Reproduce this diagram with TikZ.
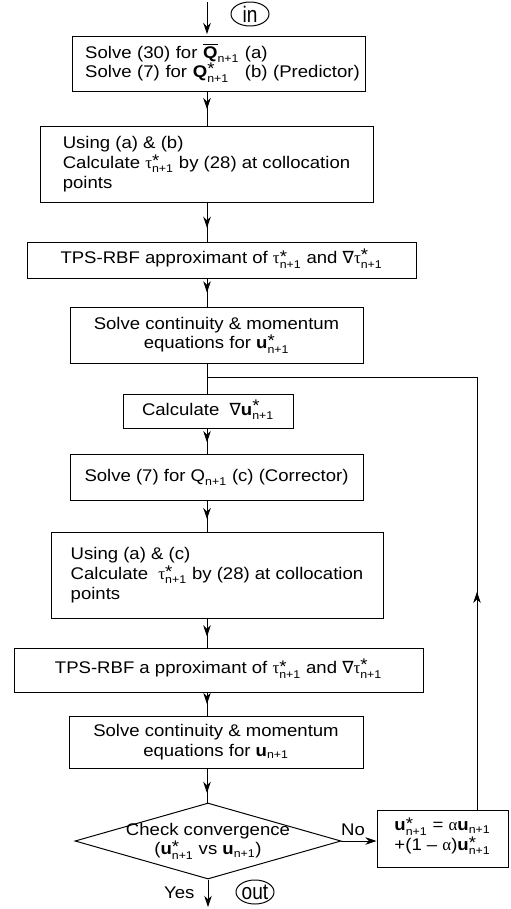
\documentclass[tikz,border=0pt]{standalone}
\usepackage{amsmath}
\usepackage{fontspec}
\setmainfont{Liberation Sans}[FakeStretch=1.1]
\newfontfamily\greekfont{Liberation Serif}
\newfontfamily\nabfont{DejaVu Sans}
\newfontfamily\termfont{Liberation Sans}[FakeStretch=0.85]
\usetikzlibrary{arrows.meta,shapes.geometric,decorations.markings}

% symbols used in the boxes
\newcommand{\nplus}{\text{n+1}}
\newcommand{\nabsym}{{\nabfont ∇}}
\newcommand{\starsym}{\mbox{\smash{\raisebox{-3pt}{*}}}}
\newcommand{\taust}{$\text{\greekfont τ}^{\starsym}_{\nplus}$}
\newcommand{\gradtaust}{$\text{\nabsym\greekfont τ}^{\starsym}_{\nplus}$}
\newcommand{\ust}{$\text{\bfseries u}^{\starsym}_{\nplus}$}
\newcommand{\gradust}{$\text{\nabsym\bfseries u}^{\starsym}_{\nplus}$}
\newcommand{\unp}{$\text{\bfseries u}_{\nplus}$}
\newcommand{\Qbar}{$\overline{\text{\bfseries Q}}_{\nplus}$}
\newcommand{\Qst}{$\text{\bfseries Q}^{\starsym}_{\nplus}$}
\newcommand{\alphsym}{{\greekfont α}}

\tikzset{
  box/.style={draw, line width=0.7pt, inner sep=2pt,
    font=\fontsize{12}{14}\selectfont},
  term/.style={ellipse, draw, line width=0.7pt, inner sep=0pt,
    minimum width=0.95cm, minimum height=0.6cm, font=\termfont\fontsize{16}{16}\selectfont},
  midarrow/.style={postaction={decorate},
    decoration={markings, mark=at position #1 with {\arrow{>}}}},
}

\begin{document}
\begin{tikzpicture}[x=0.25mm, y=-0.25mm, line width=0.7pt,
  >={Stealth[length=8pt,width=5.4pt]}]
\useasboundingbox (0,0) rectangle (510,909);

% Main axis of the flow chart
\coordinate (axis) at (207,0);
\coordinate (entry) at (207,2);
\coordinate (exit) at (208,907);
\coordinate (ret) at (477,377);

% Start
\node[term] (in) at (250,14) {in};

% Predictor
\node[box, align=left, inner xsep=0.33cm, text width=6.665cm, minimum height=1.375cm] (pred) at (218.5,63.5)
  {\begin{tabular}{@{}l@{\hspace{4pt}}l@{}}
   Solve (30) for \Qbar & (a)\\
   Solve (7) for \Qst & (b) (Predictor)
   \end{tabular}};
\node[box, align=left, minimum width=8.325cm, minimum height=1.9cm] (taup) at (206.5,164)
  {Using (a) \& (b)\\ Calculate \taust{} by (28) at collocation\\ points};
\node[box, minimum width=9.725cm, minimum height=0.9cm] (rbfp) at (221.5,260)
  {TPS-RBF approximant of \taust{} and \gradtaust};
\node[box, align=center, minimum width=7.325cm, minimum height=1.4cm] (momp) at (216.5,335)
  {Solve continuity \& momentum\\ equations for \ust};

% Corrector
\node[box, minimum width=4.25cm, minimum height=0.85cm] (grad) at (208,411)
  {Calculate\ \ \gradust};
\node[box, minimum width=7.325cm, minimum height=1.15cm] (corr) at (216.5,477)
  {Solve (7) for $\text{Q}_{\nplus}$ (c) (Corrector)};
\node[box, align=left, minimum width=8.3cm, minimum height=2.15cm] (tauc) at (217,575)
  {Using (a) \& (c)\\ Calculate\ \ \taust{} by (28) at collocation\\ points};
\node[box, minimum width=10.225cm, minimum height=1.1cm] (rbfc) at (218.5,670)
  {TPS-RBF a pproximant of \taust{} and \gradtaust};
\node[box, align=center, minimum width=7.35cm, minimum height=1.3cm] (momc) at (216,742)
  {Solve continuity \& momentum\\ equations for \unp};

% Convergence test
\node[box, diamond, aspect=3.5, inner sep=-3pt, align=center,
  minimum width=6.65cm, minimum height=1.9cm] (check) at (208,841)
  {Check convergence\\ (\ust{} vs \unp)};
\node[box, align=center, minimum width=3.275cm, minimum height=1.425cm] (fix) at (442.5,838.5)
  {\ust{} = \alphsym\unp\\ +(1 -- \alphsym)\ust};

% End
\node[term] (out) at (255,892) {out};

% Connectors
\draw[->, shorten >=1pt] (entry) -- (pred.north -| axis);
\foreach \a/\b/\p in {pred/taup/0.52, taup/rbfp/0.65, rbfp/momp/0.5,
    grad/corr/0.55, corr/tauc/0.6, tauc/rbfc/0.62, rbfc/momc/0.5, momc/check/0.72}
  \draw[midarrow=\p] (\a.south -| axis) -- (\b.north -| axis);
\draw (momp.south -| axis) -- (grad.north -| axis);

% Loop back
\draw[midarrow=0.31] (fix.north -| ret) -- (ret) -- (ret -| axis);
\draw[->] (check.east) -- (check.east -| fix.west)
  node[pos=0.33, above, font=\fontsize{12}{14}\selectfont] {No};
\draw[->] (check.south) -- (exit)
  node[pos=0.5, left, xshift=-6pt, font=\fontsize{12}{14}\selectfont] {Yes};

\end{tikzpicture}
\end{document}
